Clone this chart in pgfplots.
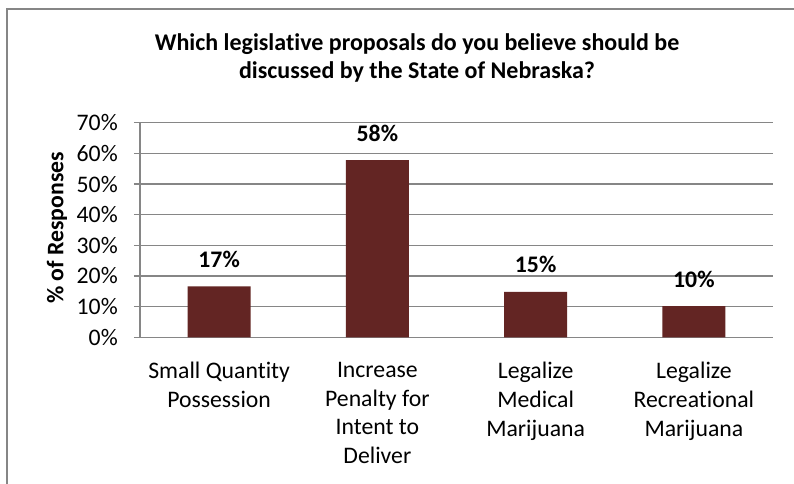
\documentclass[border=0pt]{standalone}
\usepackage{fontspec}
\setmainfont{Carlito}[Ligatures={NoCommon}]
\usepackage{pgfplots}
\pgfplotsset{compat=1.18}
\definecolor{barcol}{HTML}{632523}
\definecolor{gridcol}{HTML}{868686}
\begin{document}
\fontsize{17.8pt}{21.5pt}\selectfont
\begin{tikzpicture}[x=0.75pt,y=-0.75pt]
\useasboundingbox (0,0) rectangle (794,483);
\fill[white] (0,0) rectangle (794,483);
\draw[gridcol, line width=1.5pt] (7,484) -- (7,9) -- (795,9);
\node[font=\fontsize{18pt}{21.5pt}\selectfont\bfseries, anchor=base, inner sep=0pt] at (417,50) {Which legislative proposals do you believe should be};
\node[font=\fontsize{18pt}{21.5pt}\selectfont\bfseries, anchor=base, inner sep=0pt] at (417,78) {discussed by the State of Nebraska?};
\coordinate (A) at (140,337.3);
\begin{axis}[
  at={(A)}, anchor=south west,
  scale only axis, width=474.75pt, height=160.95pt,
  xmin=-0.5, xmax=3.5, ymin=0, ymax=70,
  clip=false,
  axis x line*=bottom, axis y line*=left,
  axis line style={gridcol, line width=0.9pt, -},
  ymajorgrids, major grid style={gridcol, line width=0.9pt},
  ytick={0,10,20,30,40,50,60,70},
  yticklabels={0\%,10\%,20\%,30\%,40\%,50\%,60\%,70\%},
  ytick style={gridcol, line width=0.9pt},
  tick align=outside, major tick length=4.5pt,
  xtick={0,1,2,3}, xtick style={draw=none},
  xticklabels={{Small Quantity\\Possession},{Increase\\Penalty for\\Intent to\\Deliver},{Legalize\\Medical\\Marijuana},{Legalize\\Recreational\\Marijuana}},
  xticklabel style={align=center, anchor=north, inner sep=0pt, yshift=-14pt},
  yticklabel style={anchor=east, inner sep=0pt, xshift=-12pt},
  ylabel={\bfseries \% of Responses},
  every axis y label/.style={at={(rel axis cs:0,0.5)}, xshift=-62.25pt, yshift=1.5pt, rotate=90, anchor=center, inner sep=0pt},
  /pgf/number format/assume math mode=true,
]
\addplot[ybar, bar width=47.25pt, fill=barcol, draw=none,
  nodes near coords, point meta=explicit symbolic,
  every node near coord/.append style={font=\bfseries, anchor=south, inner sep=0pt, yshift=13.9pt, text=black}]
  coordinates {(0,16.6)[17\%] (1,57.8)[58\%] (2,14.8)[15\%] (3,10.2)[10\%]};
\end{axis}
\end{tikzpicture}
\end{document}
